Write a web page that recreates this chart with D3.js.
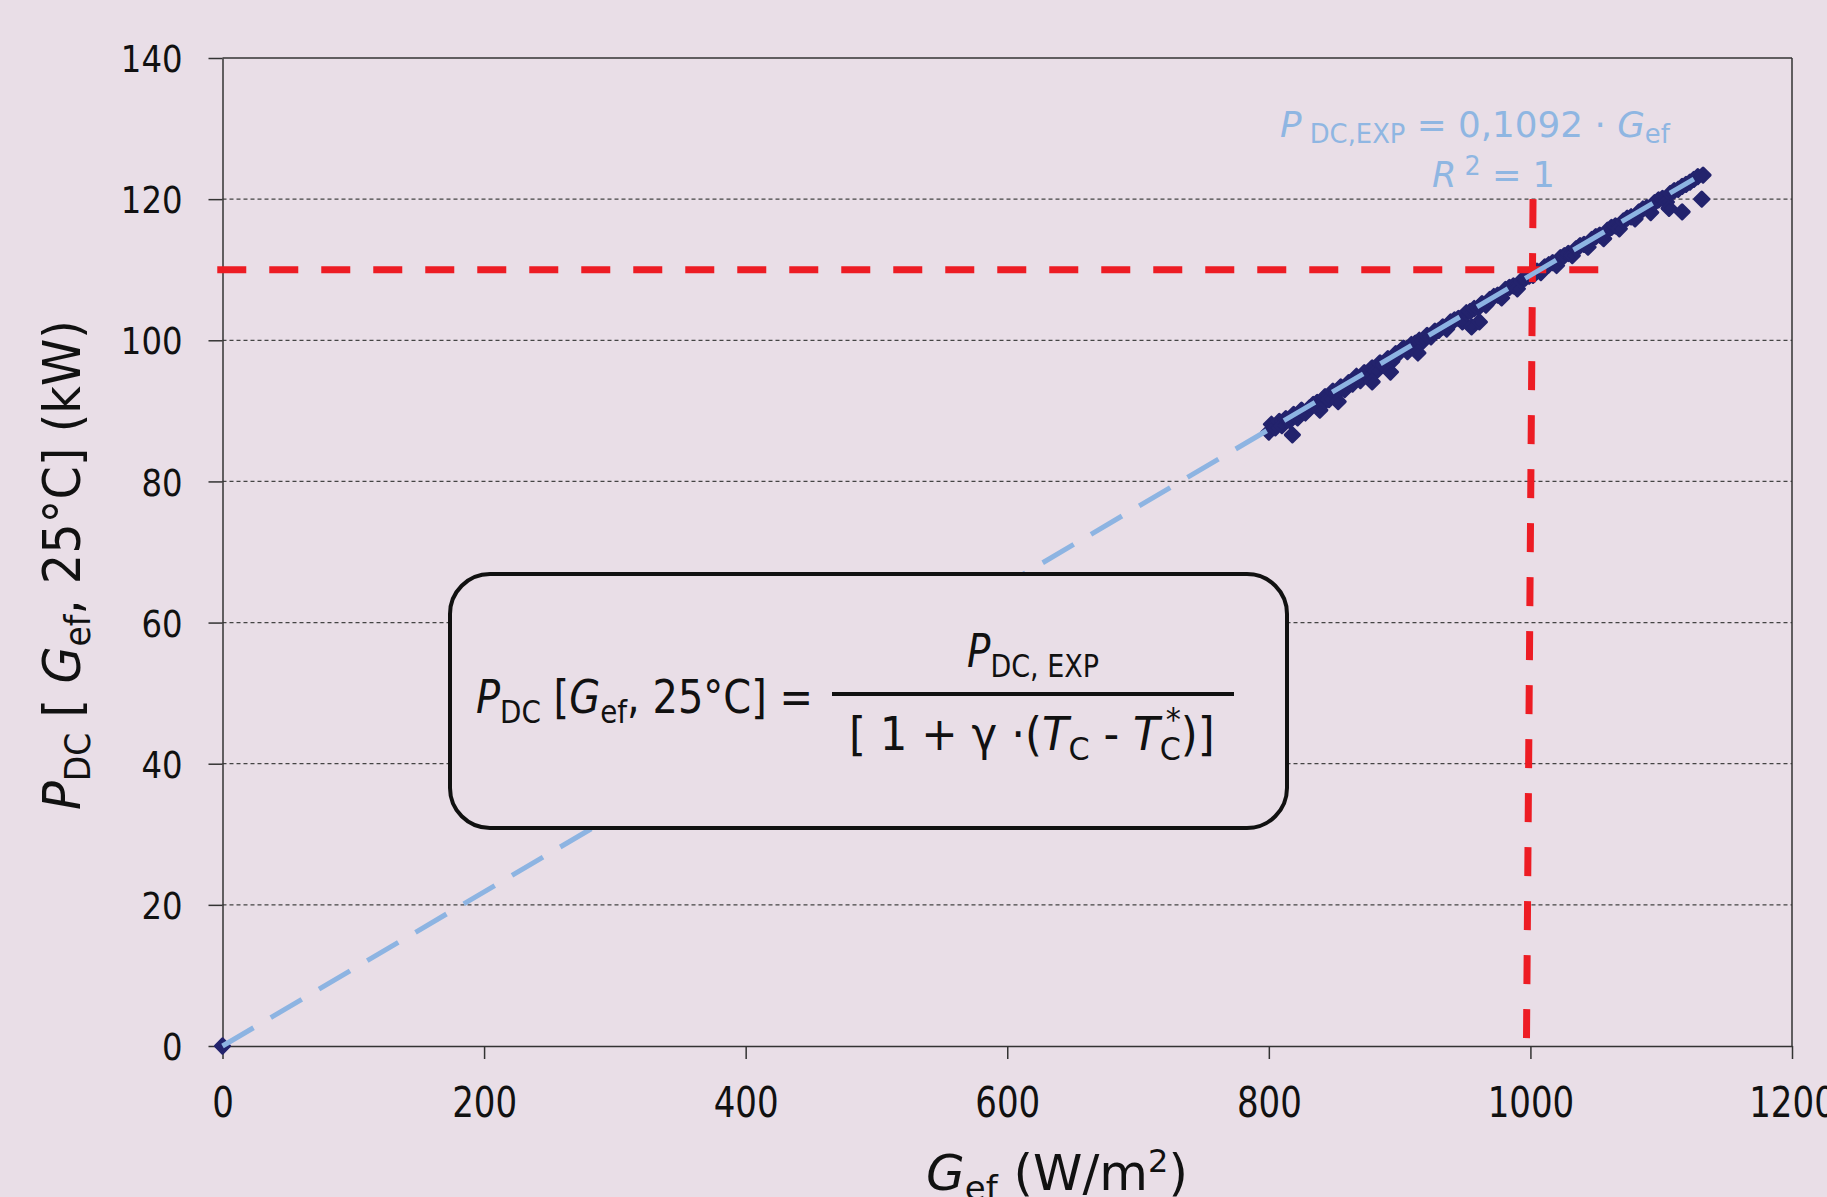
<!DOCTYPE html>
<html>
<head>
<meta charset="utf-8">
<script src="https://cdn.jsdelivr.net/npm/d3@7"></script>
<style>
  html, body { margin: 0; padding: 0; background: #e9dee7; }
  svg { display: block; }
  text { font-family: "DejaVu Sans", Verdana, sans-serif; fill: #111; }
</style>
</head>
<body>
<svg id="chart" width="1827" height="1197"></svg>
<script>
// axis ticks
const xTicks = [0, 200, 400, 600, 800, 1000, 1200];
const yTicks = [0, 20, 40, 60, 80, 100, 120, 140];

// measured points, G_ef (W/m2) and P_DC (kW)
const gef = [0,
  800, 802, 805, 808, 810, 813, 816, 819, 822, 825, 828, 831, 834, 837, 840, 843, 846, 849,
  852, 855, 858, 861, 864, 867, 870, 873, 876, 879, 882, 885, 888, 891, 894, 897, 900, 903,
  906, 909, 912, 915, 918, 921, 924, 927, 930, 933, 936, 939, 942, 945, 948, 951, 954, 957,
  960, 963, 966, 969, 972, 975, 978, 981, 984, 987, 990, 993, 996, 999, 1002, 1005, 1008,
  1011, 1014, 1017, 1020, 1023, 1026, 1029, 1032, 1035, 1038, 1041, 1044, 1047, 1050, 1053,
  1056, 1059, 1062, 1065, 1068, 1071, 1074, 1077, 1080, 1083, 1086, 1089, 1092, 1095, 1098,
  1101, 1104, 1107, 1110, 1113, 1116, 1119, 1122, 1125, 1128, 1132,
  818, 839, 853, 879, 893, 914, 955, 961, 1106, 1116, 1131];
const pdc = [0,
  87.0, 88.1, 87.6, 88.5, 87.9, 88.9, 88.6, 89.5, 89.0, 90.1, 89.7, 90.4, 90.9, 91.2, 90.8, 92.0, 91.6, 92.8,
  92.5, 93.4, 93.0, 94.0, 93.8, 94.9, 94.3, 95.4, 95.0, 96.1, 95.6, 96.8, 96.5, 97.4, 97.0, 98.1, 98.3, 98.9,
  98.4, 99.4, 99.6, 100.0, 99.9, 100.7, 100.5, 101.3, 101.4, 101.9, 101.6, 102.6, 102.9, 103.1, 102.6, 103.9, 104.1, 104.5,
  104.6, 105.2, 105.0, 105.8, 106.2, 106.4, 106.0, 107.2, 107.5, 107.7, 107.3, 108.4, 108.8, 109.1, 109.2, 109.8, 109.6,
  110.4, 110.7, 111.0, 110.6, 111.7, 112.0, 112.3, 112.0, 113.0, 113.4, 113.6, 113.2, 114.3, 114.7, 114.9,
  114.4, 115.6, 116.0, 116.2, 115.8, 116.9, 117.3, 117.5, 117.2, 118.2, 118.6, 118.8, 118.1, 119.5, 119.9,
  120.1, 119.6, 120.8, 121.2, 121.4, 121.8, 122.1, 122.4, 122.8, 123.2, 123.4,
  86.6, 90.1, 91.3, 94.1, 95.5, 98.2, 101.9, 102.6, 118.7, 118.2, 120.0];

// linear fit through origin
const fitSlope = 0.1092;
const fitRange = [0, 1125];

// red reference lines (STC point)
const refH = [[-4, 110], [1059, 110]];
const refV = [[1002, 120], [997, 1]];

const svg = d3.select('#chart');

const x = d3.scaleLinear().domain([0, 1200]).range([222.5, 1792]);
const y = d3.scaleLinear().domain([0, 140]).range([1046, 58]);

// gridlines (dashed, none on the top edge)
svg.append('g')
  .selectAll('line')
  .data(yTicks.filter(d => d > 0 && d < 140))
  .join('line')
  .attr('x1', x(0))
  .attr('x2', x(1200))
  .attr('y1', d => y(d))
  .attr('y2', d => y(d))
  .attr('stroke', '#444')
  .attr('stroke-width', 1.3)
  .attr('stroke-dasharray', '4,3');

// frame top and right
svg.append('line')
  .attr('x1', x(0)).attr('x2', x(1200))
  .attr('y1', y(140)).attr('y2', y(140))
  .attr('stroke', '#333').attr('stroke-width', 1.5);
svg.append('line')
  .attr('x1', x(1200)).attr('x2', x(1200))
  .attr('y1', y(140)).attr('y2', y(0))
  .attr('stroke', '#333').attr('stroke-width', 1.5);

// axes
const xAxis = svg.append('g')
  .attr('transform', `translate(0,${y(0)})`)
  .call(d3.axisBottom(x).tickValues(xTicks).tickFormat(d3.format('d'))
    .tickSize(13).tickSizeOuter(0).tickPadding(0));
xAxis.select('.domain').attr('stroke', '#333').attr('stroke-width', 1.5);
xAxis.selectAll('.tick line').attr('stroke', '#333').attr('stroke-width', 1.5);
xAxis.selectAll('.tick text')
  .attr('font-size', 42)
  .attr('fill', '#111')
  .attr('y', 71)
  .attr('dy', 0)
  .attr('transform', 'scale(0.81,1)');

const yAxis = svg.append('g')
  .attr('transform', `translate(${x(0)},0)`)
  .call(d3.axisLeft(y).tickValues(yTicks).tickSize(14).tickSizeOuter(0));
yAxis.select('.domain').attr('stroke', '#333').attr('stroke-width', 1.5);
yAxis.selectAll('.tick line').attr('stroke', '#333').attr('stroke-width', 1.5);
yAxis.selectAll('.tick text')
  .attr('font-size', 38)
  .attr('fill', '#111')
  .attr('x', -40 / 0.85)
  .attr('dy', '0.36em')
  .attr('transform', 'scale(0.85,1)');

// scatter points (rotated squares like excel diamonds)
const pts = gef.map((g, i) => ({g: g, p: pdc[i]}));
svg.append('g')
  .selectAll('path')
  .data(pts)
  .join('path')
  .attr('d', d3.symbol(d3.symbolSquare, 100))
  .attr('transform', d => `translate(${x(d.g)},${y(d.p)}) rotate(45)`)
  .attr('fill', '#23236d')
  .attr('stroke', '#23236d')
  .attr('stroke-width', 3)
  .attr('stroke-linejoin', 'round');

const line = d3.line().x(d => x(d[0])).y(d => y(d[1]));

// red reference lines
svg.append('path')
  .attr('d', line(refH))
  .attr('stroke', '#ed1c24').attr('stroke-width', 7)
  .attr('stroke-dasharray', '29,23').attr('fill', 'none');
svg.append('path')
  .attr('d', line(refV))
  .attr('stroke', '#ed1c24').attr('stroke-width', 7)
  .attr('stroke-dasharray', '29,25').attr('fill', 'none');

// fit line
svg.append('path')
  .attr('d', line(fitRange.map(g => [g, g * fitSlope])))
  .attr('stroke', '#8db4e2').attr('stroke-width', 5)
  .attr('stroke-dasharray', '36,20').attr('fill', 'none');

// squeeze text horizontally so it spans the given width
function fitText(parent, left, baseline, width, build, rotate) {
  const g = parent.append('g');
  const t = g.append('text').attr('x', 0).attr('y', 0);
  build(t);
  const len = t.node().getComputedTextLength();
  const sx = width / len;
  if (rotate) {
    g.attr('transform', `translate(${left},${baseline}) rotate(-90) scale(${sx},1)`);
  } else {
    g.attr('transform', `translate(${left},${baseline}) scale(${sx},1)`);
  }
  return t;
}

// regression label
const blue = '#8fb6e2';
fitText(svg, 1280, 137, 390, t => {
  t.attr('font-size', 36).style('fill', blue);
  t.append('tspan').attr('font-style', 'italic').text('P');
  t.append('tspan').attr('font-size', 26).attr('dy', 6).text(' DC,EXP');
  t.append('tspan').attr('dy', -6).text(' = 0,1092 · ');
  t.append('tspan').attr('font-style', 'italic').text('G');
  t.append('tspan').attr('font-size', 26).attr('dy', 6).text('ef');
});
fitText(svg, 1432, 187, 123, t => {
  t.attr('font-size', 36).style('fill', blue);
  t.append('tspan').attr('font-style', 'italic').text('R');
  t.append('tspan').attr('font-size', 26).attr('dy', -12).text(' 2');
  t.append('tspan').attr('dy', 12).text(' = 1');
});

// formula box
svg.append('rect')
  .attr('x', 450).attr('y', 574)
  .attr('width', 837).attr('height', 254)
  .attr('rx', 40).attr('ry', 40)
  .attr('fill', '#e9dee7')
  .attr('stroke', '#111').attr('stroke-width', 4);

fitText(svg, 476, 713, 337, t => {
  t.attr('font-size', 46);
  t.append('tspan').attr('font-style', 'italic').text('P');
  t.append('tspan').attr('font-size', 32).attr('dy', 10).text('DC');
  t.append('tspan').attr('dy', -10).text(' [');
  t.append('tspan').attr('font-style', 'italic').text('G');
  t.append('tspan').attr('font-size', 32).attr('dy', 10).text('ef');
  t.append('tspan').attr('dy', -10).text(', 25°C] =');
});
fitText(svg, 967, 667, 132, t => {
  t.attr('font-size', 46);
  t.append('tspan').attr('font-style', 'italic').text('P');
  t.append('tspan').attr('font-size', 32).attr('dy', 10).text('DC, EXP');
});
svg.append('line')
  .attr('x1', 832).attr('x2', 1234)
  .attr('y1', 694).attr('y2', 694)
  .attr('stroke', '#111').attr('stroke-width', 4);
fitText(svg, 849, 750, 381, t => {
  t.attr('font-size', 46);
  t.append('tspan').text('[ 1 + γ ·(');
  t.append('tspan').attr('font-style', 'italic').text('T');
  t.append('tspan').attr('font-size', 32).attr('dy', 10).text('C');
  t.append('tspan').attr('dy', -10).text(' - ');
  t.append('tspan').attr('font-style', 'italic').text('T');
  t.append('tspan').attr('font-size', 32).attr('dy', 10).text('C');
  t.append('tspan').attr('font-size', 32).attr('dx', -16).attr('dy', -30).text('*');
  t.append('tspan').attr('dy', 20).text(')]');
});

// axis titles
fitText(svg, 80, 810, 490, t => {
  t.attr('font-size', 52);
  t.append('tspan').attr('font-style', 'italic').text('P');
  t.append('tspan').attr('font-size', 36).attr('dy', 10).text('DC');
  t.append('tspan').attr('dy', -10).text(' [ ');
  t.append('tspan').attr('font-style', 'italic').text('G');
  t.append('tspan').attr('font-size', 36).attr('dy', 10).text('ef');
  t.append('tspan').attr('dy', -10).text(', 25°C] (kW)');
}, true);
fitText(svg, 926, 1190, 262, t => {
  t.attr('font-size', 50);
  t.append('tspan').attr('font-style', 'italic').text('G');
  t.append('tspan').attr('font-size', 34).attr('dy', 10).text('ef');
  t.append('tspan').attr('dy', -10).text(' (W/m');
  t.append('tspan').attr('font-size', 32).attr('dy', -18).text('2');
  t.append('tspan').attr('dy', 18).text(')');
});
</script>
</body>
</html>
